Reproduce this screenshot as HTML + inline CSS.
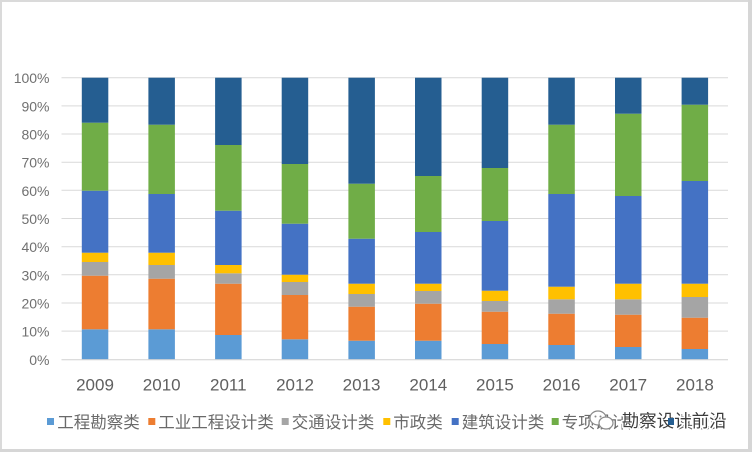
<!DOCTYPE html>
<html>
<head>
<meta charset="utf-8">
<style>
  html, body { margin: 0; padding: 0; background: #ffffff; }
  body { width: 752px; height: 452px; overflow: hidden; }
  svg { display: block; }
  text { font-family: "Liberation Sans", "Noto Sans CJK SC", sans-serif; }
</style>
</head>
<body>
<svg width="752" height="452" viewBox="0 0 752 452" xmlns="http://www.w3.org/2000/svg">
  <rect x="0" y="0" width="752" height="452" fill="#ffffff"/>
  <!-- frame border -->
  <rect x="0" y="0" width="2" height="452" fill="#dadada"/>
  <rect x="0" y="0" width="752" height="2" fill="#dadada"/>
  <rect x="748" y="0" width="4" height="452" fill="#d6d6d6"/>
  <rect x="0" y="449" width="752" height="3" fill="#d6d6d6"/>

  <!-- gridlines -->
  <g stroke="#d9d9d9" stroke-width="1">
    <line x1="61.5" x2="728" y1="77.7" y2="77.7"/>
    <line x1="61.5" x2="728" y1="105.9" y2="105.9"/>
    <line x1="61.5" x2="728" y1="134.0" y2="134.0"/>
    <line x1="61.5" x2="728" y1="162.2" y2="162.2"/>
    <line x1="61.5" x2="728" y1="190.3" y2="190.3"/>
    <line x1="61.5" x2="728" y1="218.5" y2="218.5"/>
    <line x1="61.5" x2="728" y1="246.7" y2="246.7"/>
    <line x1="61.5" x2="728" y1="274.8" y2="274.8"/>
    <line x1="61.5" x2="728" y1="303.0" y2="303.0"/>
    <line x1="61.5" x2="728" y1="331.1" y2="331.1"/>
  </g>

  <!-- y labels -->
  <g fill="#707070" font-size="14" text-anchor="end">
    <text x="49.5" y="83.2">100%</text>
    <text x="49.5" y="111.4">90%</text>
    <text x="49.5" y="139.5">80%</text>
    <text x="49.5" y="167.7">70%</text>
    <text x="49.5" y="195.8">60%</text>
    <text x="49.5" y="224.0">50%</text>
    <text x="49.5" y="252.2">40%</text>
    <text x="49.5" y="280.3">30%</text>
    <text x="49.5" y="308.5">20%</text>
    <text x="49.5" y="336.6">10%</text>
    <text x="49.5" y="364.8">0%</text>
  </g>

  <!-- bars -->
  <g transform="translate(81.8,0)">
    <rect x="0" width="26.5" y="329.3" height="30" fill="#5B9BD5"/>
    <rect x="0" width="26.5" y="275.7" height="53.6" fill="#ED7D31"/>
    <rect x="0" width="26.5" y="262" height="13.7" fill="#A5A5A5"/>
    <rect x="0" width="26.5" y="252.7" height="9.3" fill="#FFC000"/>
    <rect x="0" width="26.5" y="190.7" height="62" fill="#4472C4"/>
    <rect x="0" width="26.5" y="122.7" height="68" fill="#70AD47"/>
    <rect x="0" width="26.5" y="77.7" height="45" fill="#255E91"/>
  </g>
  <g transform="translate(148.4,0)">
    <rect x="0" width="26.5" y="329.3" height="30" fill="#5B9BD5"/>
    <rect x="0" width="26.5" y="278.7" height="50.6" fill="#ED7D31"/>
    <rect x="0" width="26.5" y="265" height="13.7" fill="#A5A5A5"/>
    <rect x="0" width="26.5" y="252.7" height="12.3" fill="#FFC000"/>
    <rect x="0" width="26.5" y="194" height="58.7" fill="#4472C4"/>
    <rect x="0" width="26.5" y="124.7" height="69.3" fill="#70AD47"/>
    <rect x="0" width="26.5" y="77.7" height="47" fill="#255E91"/>
  </g>
  <g transform="translate(215.1,0)">
    <rect x="0" width="26.5" y="335" height="24.3" fill="#5B9BD5"/>
    <rect x="0" width="26.5" y="283.7" height="51.3" fill="#ED7D31"/>
    <rect x="0" width="26.5" y="273.3" height="10.4" fill="#A5A5A5"/>
    <rect x="0" width="26.5" y="265" height="8.3" fill="#FFC000"/>
    <rect x="0" width="26.5" y="210.7" height="54.3" fill="#4472C4"/>
    <rect x="0" width="26.5" y="145" height="65.7" fill="#70AD47"/>
    <rect x="0" width="26.5" y="77.7" height="67.3" fill="#255E91"/>
  </g>
  <g transform="translate(281.7,0)">
    <rect x="0" width="26.5" y="339.3" height="20" fill="#5B9BD5"/>
    <rect x="0" width="26.5" y="295" height="44.3" fill="#ED7D31"/>
    <rect x="0" width="26.5" y="282" height="13" fill="#A5A5A5"/>
    <rect x="0" width="26.5" y="274.7" height="7.3" fill="#FFC000"/>
    <rect x="0" width="26.5" y="223.7" height="51" fill="#4472C4"/>
    <rect x="0" width="26.5" y="164" height="59.7" fill="#70AD47"/>
    <rect x="0" width="26.5" y="77.7" height="86.3" fill="#255E91"/>
  </g>
  <g transform="translate(348.4,0)">
    <rect x="0" width="26.5" y="340.7" height="18.6" fill="#5B9BD5"/>
    <rect x="0" width="26.5" y="306.7" height="34" fill="#ED7D31"/>
    <rect x="0" width="26.5" y="294" height="12.7" fill="#A5A5A5"/>
    <rect x="0" width="26.5" y="283.7" height="10.3" fill="#FFC000"/>
    <rect x="0" width="26.5" y="238.7" height="45" fill="#4472C4"/>
    <rect x="0" width="26.5" y="183.7" height="55" fill="#70AD47"/>
    <rect x="0" width="26.5" y="77.7" height="106" fill="#255E91"/>
  </g>
  <g transform="translate(415.0,0)">
    <rect x="0" width="26.5" y="340.7" height="18.6" fill="#5B9BD5"/>
    <rect x="0" width="26.5" y="303.7" height="37" fill="#ED7D31"/>
    <rect x="0" width="26.5" y="291" height="12.7" fill="#A5A5A5"/>
    <rect x="0" width="26.5" y="283.7" height="7.3" fill="#FFC000"/>
    <rect x="0" width="26.5" y="232" height="51.7" fill="#4472C4"/>
    <rect x="0" width="26.5" y="176" height="56" fill="#70AD47"/>
    <rect x="0" width="26.5" y="77.7" height="98.3" fill="#255E91"/>
  </g>
  <g transform="translate(481.7,0)">
    <rect x="0" width="26.5" y="344" height="15.3" fill="#5B9BD5"/>
    <rect x="0" width="26.5" y="311.7" height="32.3" fill="#ED7D31"/>
    <rect x="0" width="26.5" y="301" height="10.7" fill="#A5A5A5"/>
    <rect x="0" width="26.5" y="290.7" height="10.3" fill="#FFC000"/>
    <rect x="0" width="26.5" y="221" height="69.7" fill="#4472C4"/>
    <rect x="0" width="26.5" y="168" height="53" fill="#70AD47"/>
    <rect x="0" width="26.5" y="77.7" height="90.3" fill="#255E91"/>
  </g>
  <g transform="translate(548.3,0)">
    <rect x="0" width="26.5" y="345" height="14.3" fill="#5B9BD5"/>
    <rect x="0" width="26.5" y="313.7" height="31.3" fill="#ED7D31"/>
    <rect x="0" width="26.5" y="299.3" height="14.4" fill="#A5A5A5"/>
    <rect x="0" width="26.5" y="286.7" height="12.6" fill="#FFC000"/>
    <rect x="0" width="26.5" y="194" height="92.7" fill="#4472C4"/>
    <rect x="0" width="26.5" y="124.7" height="69.3" fill="#70AD47"/>
    <rect x="0" width="26.5" y="77.7" height="47" fill="#255E91"/>
  </g>
  <g transform="translate(615.0,0)">
    <rect x="0" width="26.5" y="347" height="12.3" fill="#5B9BD5"/>
    <rect x="0" width="26.5" y="314.7" height="32.3" fill="#ED7D31"/>
    <rect x="0" width="26.5" y="299.3" height="15.4" fill="#A5A5A5"/>
    <rect x="0" width="26.5" y="283.7" height="15.6" fill="#FFC000"/>
    <rect x="0" width="26.5" y="196" height="87.7" fill="#4472C4"/>
    <rect x="0" width="26.5" y="113.7" height="82.3" fill="#70AD47"/>
    <rect x="0" width="26.5" y="77.7" height="36" fill="#255E91"/>
  </g>
  <g transform="translate(681.6,0)">
    <rect x="0" width="26.5" y="349" height="10.3" fill="#5B9BD5"/>
    <rect x="0" width="26.5" y="317.7" height="31.3" fill="#ED7D31"/>
    <rect x="0" width="26.5" y="297" height="20.7" fill="#A5A5A5"/>
    <rect x="0" width="26.5" y="283.7" height="13.3" fill="#FFC000"/>
    <rect x="0" width="26.5" y="181" height="102.7" fill="#4472C4"/>
    <rect x="0" width="26.5" y="104.7" height="76.3" fill="#70AD47"/>
    <rect x="0" width="26.5" y="77.7" height="27" fill="#255E91"/>
  </g>

  <!-- x axis line -->
  <line x1="61.5" x2="728" y1="359.8" y2="359.8" stroke="#d0d0d0" stroke-width="1"/>

  <!-- x labels -->
  <g fill="#606060" font-size="17" text-anchor="middle">
    <text x="95.0" y="390.5">2009</text>
    <text x="161.7" y="390.5">2010</text>
    <text x="228.3" y="390.5">2011</text>
    <text x="295.0" y="390.5">2012</text>
    <text x="361.6" y="390.5">2013</text>
    <text x="428.3" y="390.5">2014</text>
    <text x="494.9" y="390.5">2015</text>
    <text x="561.6" y="390.5">2016</text>
    <text x="628.2" y="390.5">2017</text>
    <text x="694.9" y="390.5">2018</text>
  </g>

  <!-- legend -->
  <g font-size="16.5" fill="#6a6a6a">
    <rect x="47" y="418" width="7" height="7" fill="#5B9BD5"/>
    <text x="57.3" y="428">工程勘察类</text>
    <rect x="148.3" y="418" width="7" height="7" fill="#ED7D31"/>
    <text x="158.3" y="428">工业工程设计类</text>
    <rect x="281.7" y="418" width="7" height="7" fill="#A5A5A5"/>
    <text x="291.7" y="428">交通设计类</text>
    <rect x="383.3" y="418" width="7" height="7" fill="#FFC000"/>
    <text x="393.3" y="428">市政类</text>
    <rect x="451.7" y="418" width="7" height="7" fill="#4472C4"/>
    <text x="461.7" y="428">建筑设计类</text>
    <rect x="551.7" y="418" width="7" height="7" fill="#70AD47"/>
    <text x="561.7" y="428">专项设计类</text>
    <text x="677" y="428">其他类</text>
  </g>

  <!-- watermark -->
  <g>
    <ellipse cx="598" cy="418" rx="8" ry="7" fill="#ffffff" stroke="#8a8a8a" stroke-width="1.2"/>
    <ellipse cx="606" cy="423" rx="7" ry="6" fill="#ffffff" stroke="#8a8a8a" stroke-width="1.2"/>
    <circle cx="595.5" cy="416.5" r="1" fill="#8a8a8a"/>
    <circle cx="600.5" cy="416.5" r="1" fill="#8a8a8a"/>
    <text x="621.7" y="427" font-size="17.5" fill="#3c3c3c" stroke="#ffffff" stroke-width="3" paint-order="stroke" stroke-linejoin="round">勘察设计前沿</text>
    <rect x="668" y="418" width="6" height="7" fill="#255E91"/>
  </g>
</svg>
</body>
</html>
